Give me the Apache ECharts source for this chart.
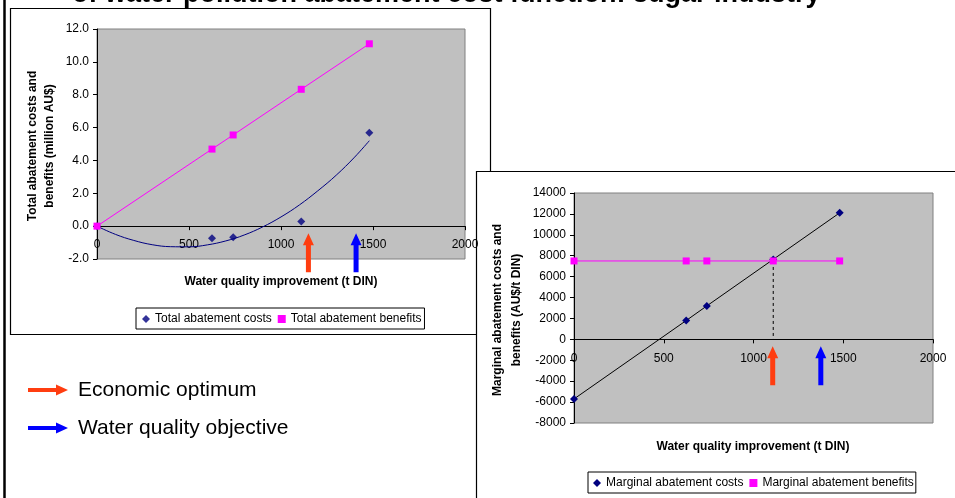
<!DOCTYPE html>
<html><head><meta charset="utf-8">
<script src="https://cdn.jsdelivr.net/npm/echarts@6/dist/echarts.min.js"></script>
<style>html,body{margin:0;padding:0;background:#fff}#c{width:955px;height:498px}</style>
</head><body><div id="c"></div>
<script>
// ---- data ----
const improvement = [0, 625, 740, 1110, 1480];
const totalCosts = [0, -0.73, -0.67, 0.28, 5.68];
const totalBenefits = [0, 4.69, 5.55, 8.33, 11.1];
const trendX = [0, 100, 200, 300, 400, 500, 600, 700, 800, 900, 1000, 1100, 1200, 1300, 1400, 1480];
const trendY = [0, -0.5, -0.87, -1.13, -1.25, -1.26, -1.14, -0.9, -0.54, -0.05, 0.56, 1.29, 2.15, 3.1, 4.2, 5.2];
const marginalCosts = [-5700, 1800, 3200, 7650, 12100];
const marginalBenefits = [7500, 7500, 7500, 7500, 7500];
const optimumPoint = [1110, 7500];
const leftArrowsX = [1149, 1408];
const rightArrowsX = [1107, 1375];
const leftYTicks = { min: -2, max: 12, interval: 2 };
const rightYTicks = { min: -8000, max: 14000, interval: 2000 };
const xTicks = { min: 0, max: 2000, interval: 500 };
const titleText = 'of water pollution abatement cost function: sugar industry';
const keyLabels = ['Economic optimum', 'Water quality objective'];

const FONT = 'Liberation Sans, Arial, sans-serif';
const ORANGE = '#FF3D10', BLUE = '#0000FF', NAVY = '#000080', PINK = '#FF00FF';

const pairs = (xs, ys) => xs.map((x, i) => [x, ys[i]]);

const chart = echarts.init(document.getElementById('c'), null, { renderer: 'canvas' });

const GRIDS = [
  { left: 97, top: 29, width: 368, height: 230 },
  { left: 574, top: 193, width: 359, height: 230 }
];
const axisLbl = { color: '#000', fontSize: 12, fontFamily: FONT };
function xAxisDef(g, yt) {
  // labels sit just under the zero line (axis crosses at 0)
  const zeroFromBottom = GRIDS[g].height * (0 - yt.min) / (yt.max - yt.min);
  return {
    type: 'value', gridIndex: g, min: xTicks.min, max: xTicks.max, interval: xTicks.interval,
    axisLine: { onZero: true, lineStyle: { color: '#000', width: 1 } },
    axisTick: { show: true, length: 4, lineStyle: { color: '#000' } },
    axisLabel: Object.assign({ margin: 13 - zeroFromBottom, formatter: v => String(v) }, axisLbl),
    splitLine: { show: false }
  };
}
function yAxisDef(g, t, dec) {
  return {
    type: 'value', gridIndex: g, min: t.min, max: t.max, interval: t.interval,
    axisLine: { show: true, onZero: false, lineStyle: { color: '#000', width: 1 } },
    axisTick: { show: true, length: 4, lineStyle: { color: '#000' } },
    axisLabel: Object.assign({ margin: 8, formatter: v => dec ? v.toFixed(1) : String(v) }, axisLbl),
    splitLine: { show: false }
  };
}
const legendBase = {
  orient: 'horizontal', itemWidth: 8, itemHeight: 8, itemGap: 6,
  borderColor: '#000', borderWidth: 1, backgroundColor: '#fff', selectedMode: false,
  textStyle: { fontSize: 12, color: '#000', fontFamily: FONT }
};

chart.setOption({
  animation: false,
  backgroundColor: '#fff',
  grid: GRIDS.map(gr => Object.assign({ show: true, backgroundColor: '#C0C0C0', borderColor: '#808080', borderWidth: 1 }, gr)),
  xAxis: [xAxisDef(0, leftYTicks), xAxisDef(1, rightYTicks)],
  yAxis: [yAxisDef(0, leftYTicks, true), yAxisDef(1, rightYTicks, false)],
  legend: [
    Object.assign({}, legendBase, { left: 136, top: 308, padding: [5, 3, 4, 6],
      data: [{ name: 'Total abatement costs', icon: 'diamond' }, { name: 'Total abatement benefits', icon: 'rect' }] }),
    Object.assign({}, legendBase, { left: 588, top: 472, padding: [5, 2, 4, 5],
      data: [{ name: 'Marginal abatement costs', icon: 'diamond' }, { name: 'Marginal abatement benefits', icon: 'rect' }] })
  ],
  series: [
    { type: 'line', xAxisIndex: 0, yAxisIndex: 0, data: pairs(trendX, trendY), smooth: 0.4, showSymbol: false,
      lineStyle: { color: NAVY, width: 1 }, silent: true, z: 2 },
    { name: 'Total abatement costs', type: 'scatter', xAxisIndex: 0, yAxisIndex: 0, data: pairs(improvement, totalCosts),
      symbol: 'diamond', symbolSize: 8, itemStyle: { color: NAVY }, z: 3 },
    { name: 'Total abatement benefits', type: 'line', xAxisIndex: 0, yAxisIndex: 0, data: pairs(improvement, totalBenefits),
      symbol: 'rect', symbolSize: 7, showAllSymbol: true, itemStyle: { color: PINK }, lineStyle: { color: PINK, width: 1 }, z: 4 },
    { type: 'line', xAxisIndex: 1, yAxisIndex: 1, data: [[optimumPoint[0], optimumPoint[1]], [optimumPoint[0], 0]], showSymbol: false,
      lineStyle: { color: '#000', width: 1, type: [3, 3] }, silent: true, z: 2 },
    { name: 'Marginal abatement costs', type: 'line', xAxisIndex: 1, yAxisIndex: 1, data: pairs(improvement, marginalCosts),
      symbol: 'diamond', symbolSize: 8, showAllSymbol: true, itemStyle: { color: NAVY }, lineStyle: { color: '#000', width: 1 }, z: 3 },
    { name: 'Marginal abatement benefits', type: 'line', xAxisIndex: 1, yAxisIndex: 1, data: pairs(improvement, marginalBenefits),
      symbol: 'rect', symbolSize: 7, showAllSymbol: true, itemStyle: { color: PINK }, lineStyle: { color: PINK, width: 1 }, z: 4 }
  ]
});

function upArrow(cx, tip, color) {
  return { type: 'polygon', z: 100, shape: { points: [
    [cx, tip], [cx + 5.5, tip + 12], [cx + 2.5, tip + 12], [cx + 2.5, tip + 39],
    [cx - 2.5, tip + 39], [cx - 2.5, tip + 12], [cx - 5.5, tip + 12]] }, style: { fill: color } };
}
function rightArrow(x0, cy, color) {
  return { type: 'polygon', z: 100, shape: { points: [
    [x0, cy - 2], [x0 + 28, cy - 2], [x0 + 28, cy - 5.5], [x0 + 40, cy], [x0 + 28, cy + 5.5], [x0 + 28, cy + 2], [x0, cy + 2]] },
    style: { fill: color } };
}

const g = [];
// frames
g.push({ type: 'line', z: -5, shape: { x1: 4.5, y1: 0, x2: 4.5, y2: 498 }, style: { stroke: '#000', lineWidth: 2.5 } });
g.push({ type: 'line', z: -5, shape: { x1: 185.5, y1: 0, x2: 185.5, y2: 8 }, style: { stroke: '#000', lineWidth: 1 } });
g.push({ type: 'rect', z: -5, shape: { x: 10.5, y: 8.5, width: 480, height: 326 }, style: { fill: '#fff', stroke: '#000', lineWidth: 1.2 } });
g.push({ type: 'rect', z: -4, shape: { x: 476.5, y: 171.5, width: 500, height: 340 }, style: { fill: '#fff', stroke: '#000', lineWidth: 1.2 } });
// title fragment
g.push({ type: 'text', z: -3, x: 72, y: -5, style: { text: titleText, font: 'bold 27px ' + FONT, fill: '#000', verticalAlign: 'middle' } });
// axis titles
const tFont = 'bold 12px ' + FONT;
g.push({ type: 'text', z: 10, x: 281, y: 282, style: { text: 'Water quality improvement (t DIN)', font: tFont, fill: '#000', align: 'center', verticalAlign: 'middle' } });
g.push({ type: 'text', z: 10, x: 753, y: 447, style: { text: 'Water quality improvement (t DIN)', font: tFont, fill: '#000', align: 'center', verticalAlign: 'middle' } });
g.push({ type: 'text', z: 10, x: 41.5, y: 146, rotation: Math.PI / 2, style: { text: 'Total abatement costs and\nbenefits (million AU$)', font: tFont, lineHeight: 17, fill: '#000', align: 'center', verticalAlign: 'middle' } });
g.push({ type: 'text', z: 10, x: 507.5, y: 310, rotation: Math.PI / 2, style: { text: 'Marginal abatement costs and\nbenefits (AU$/t DIN)', font: tFont, lineHeight: 19, fill: '#000', align: 'center', verticalAlign: 'middle' } });
// key
g.push(rightArrow(28, 390, ORANGE));
g.push(rightArrow(28, 428, BLUE));
g.push({ type: 'text', z: 10, x: 78, y: 390, style: { text: keyLabels[0], font: '21px ' + FONT, fill: '#000', verticalAlign: 'middle' } });
g.push({ type: 'text', z: 10, x: 78, y: 428, style: { text: keyLabels[1], font: '21px ' + FONT, fill: '#000', verticalAlign: 'middle' } });
// arrows on charts
const colors = [ORANGE, BLUE];
leftArrowsX.forEach((x, i) => {
  const p = chart.convertToPixel({ xAxisIndex: 0, yAxisIndex: 0 }, [x, 0]);
  g.push(upArrow(p[0], p[1] + 7, colors[i]));
});
rightArrowsX.forEach((x, i) => {
  const p = chart.convertToPixel({ xAxisIndex: 1, yAxisIndex: 1 }, [x, 0]);
  g.push(upArrow(p[0], p[1] + 7, colors[i]));
});
chart.setOption({ graphic: g });
</script>
</body></html>
